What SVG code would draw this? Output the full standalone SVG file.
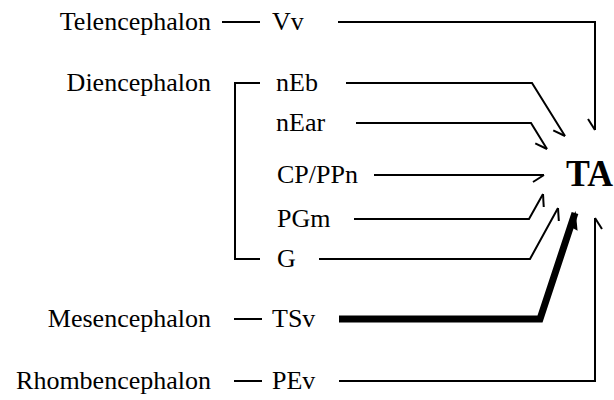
<svg xmlns="http://www.w3.org/2000/svg" width="614" height="400" viewBox="0 0 614 400">
<style>
text{font-family:"Liberation Serif","Times New Roman",serif;font-size:26px;fill:#000}
.r{text-anchor:end}
.ta{font-size:37px;font-weight:bold}
.c{fill:none;stroke:#000;stroke-width:2;stroke-linejoin:miter}
.k{fill:none;stroke:#000;stroke-width:7;stroke-linejoin:miter}
</style>
<defs>
<marker id="h" markerUnits="userSpaceOnUse" markerWidth="20" markerHeight="20" viewBox="-15 -10 20 20" refX="0" refY="0" orient="auto">
<path d="M-11,7 L0,0" fill="none" stroke="#000" stroke-width="2"/>
</marker>
<marker id="hk" markerUnits="userSpaceOnUse" markerWidth="30" markerHeight="30" viewBox="-25 -15 30 30" refX="0" refY="0" orient="auto">
<polygon points="2,0 -16,8 -14,-3" fill="#000"/>
</marker>
</defs>
<rect width="614" height="400" fill="#fff"/>
<g id="telencephalon"><text class="r" x="211" y="30">Telencephalon</text><line x1="222" y1="22" x2="260" y2="22" class="c"/></g>
<g id="diencephalon"><text class="r" x="211" y="91">Diencephalon</text><path d="M260,83 H235 V259 H260" class="c"/></g>
<g id="mesencephalon"><text class="r" x="211" y="327">Mesencephalon</text><line x1="234" y1="319" x2="262" y2="319" class="c"/></g>
<g id="rhombencephalon"><text class="r" x="211" y="389">Rhombencephalon</text><line x1="234" y1="381" x2="262" y2="381" class="c"/></g>
<g id="Vv"><text x="272" y="30">Vv</text></g>
<g id="nEb"><text x="276" y="91">nEb</text></g>
<g id="nEar"><text x="276" y="131">nEar</text></g>
<g id="CPPPn"><text x="277" y="183">CP/PPn</text></g>
<g id="PGm"><text x="277" y="227">PGm</text></g>
<g id="G"><text x="277" y="267">G</text></g>
<g id="TSv"><text x="272" y="327">TSv</text></g>
<g id="PEv"><text x="272" y="389">PEv</text></g>
<g id="TA"><text class="ta" x="566" y="186" textLength="47" lengthAdjust="spacingAndGlyphs">TA</text></g>
<g id="connectors">
<path d="M338,22 H595 V130" class="c" marker-end="url(#h)"/>
<path d="M346,83 H532 L565,136" class="c" marker-end="url(#h)"/>
<path d="M356,123 H531 L547,149" class="c" marker-end="url(#h)"/>
<path d="M374,175 H544" class="c" marker-end="url(#h)"/>
<path d="M354,219 H529 L543,194" class="c" marker-end="url(#h)"/>
<path d="M319,259 H530 L558,208" class="c" marker-end="url(#h)"/>
<path d="M339,319 H540 L575,213" class="k" marker-end="url(#hk)"/>
<path d="M339,381 H595 V218" class="c" marker-end="url(#h)"/>
</g>
</svg>
